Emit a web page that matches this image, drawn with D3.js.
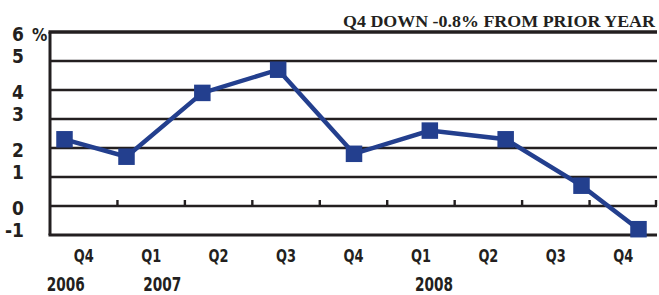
<!DOCTYPE html>
<html>
<head>
<meta charset="utf-8">
<script src="https://cdn.jsdelivr.net/npm/d3@7"></script>
<style>
  html, body { margin: 0; padding: 0; background: #ffffff; }
  svg { display: block; }
</style>
</head>
<body>
<svg id="chart" width="659" height="295"></svg>
<script>
// ---- data ----
const quarters = ["Q4", "Q1", "Q2", "Q3", "Q4", "Q1", "Q2", "Q3", "Q4"];
const values = [2.3, 1.7, 3.9, 4.7, 1.8, 2.6, 2.3, 0.7, -0.8];
const yearLabels = ["2006", "2007", "2008"];
const yearAnchorIndex = [0, 1, 5];
const yTicks = [6, 5, 4, 3, 2, 1, 0, -1];
const titleText = "Q4 DOWN -0.8% FROM PRIOR YEAR";

// ---- layout ----
const mLeft = 50, mRight = 657, mTop = 32, mBottom = 235;
const ink = "#231f20";
const blue = "#233f8e";
const sansNarrow = "'Liberation Sans Narrow', 'DejaVu Sans Condensed', 'Roboto Condensed', sans-serif";
const yearShift = [-18, 11, 13];

const svg = d3.select("#chart");

const y = d3.scaleLinear().domain([-1, 6]).range([mBottom, mTop]);
const xBand = d3.scaleBand().domain(d3.range(quarters.length)).range([mLeft, mRight]);
// marker positions follow the original's own (slightly irregular) spacing
const xPt = d3.scaleLinear().domain([0, 1, 7, 8]).range([64.5, 126.5, 581.5, 638.5]);

// gridlines
const gridVals = [5, 4, 3, 2, 1, 0];
svg.append("g").selectAll("line").data(gridVals).join("line")
  .attr("x1", mLeft).attr("x2", mRight)
  .attr("y1", d => y(d)).attr("y2", d => y(d))
  .attr("stroke", ink).attr("stroke-width", 2.6);

// frame: top, bottom, left
svg.append("line").attr("x1", mLeft - 1.5).attr("x2", mRight).attr("y1", y(6)).attr("y2", y(6))
  .attr("stroke", ink).attr("stroke-width", 3.6);
svg.append("line").attr("x1", mLeft - 1.5).attr("x2", mRight).attr("y1", y(-1)).attr("y2", y(-1))
  .attr("stroke", ink).attr("stroke-width", 3);
svg.append("line").attr("x1", mLeft).attr("x2", mLeft).attr("y1", y(6)).attr("y2", y(-1))
  .attr("stroke", ink).attr("stroke-width", 3);

// tick marks on zero line at band boundaries
const boundaries = d3.range(1, quarters.length + 1).map(i => i === quarters.length ? mRight - 1 : xBand(i));
svg.append("g").selectAll("line").data(boundaries).join("line")
  .attr("x1", d => d).attr("x2", d => d)
  .attr("y1", y(0)).attr("y2", y(0) - 6)
  .attr("stroke", ink).attr("stroke-width", 2.4);

// y tick labels
svg.append("g").selectAll("text").data(yTicks).join("text")
  .attr("x", 24)
  .attr("y", d => y(d) + (Math.abs(d) % 2 === 1 ? -5 : 2))
  .attr("dy", "0.36em")
  .attr("text-anchor", "end")
  .attr("font-family", sansNarrow)
  .attr("font-weight", "bold")
  .attr("font-size", 19)
  .attr("fill", ink)
  .text(d => d);
svg.append("text")
  .attr("x", 32).attr("y", y(6) + 3).attr("dy", "0.36em")
  .attr("font-family", sansNarrow).attr("font-weight", "bold").attr("font-size", 17)
  .attr("fill", ink).text("%");

// category labels
svg.append("g").selectAll("text").data(quarters).join("text")
  .attr("x", (d, i) => xBand(i) + xBand.bandwidth() / 2)
  .attr("y", 262)
  .attr("text-anchor", "middle")
  .attr("font-family", sansNarrow)
  .attr("font-weight", "bold")
  .attr("font-size", 18)
  .attr("textLength", 20)
  .attr("lengthAdjust", "spacingAndGlyphs")
  .attr("fill", ink)
  .text(d => d);

// year labels
svg.append("g").selectAll("text").data(yearLabels).join("text")
  .attr("x", (d, i) => xBand(yearAnchorIndex[i]) + xBand.bandwidth() / 2 + yearShift[i])
  .attr("y", 291)
  .attr("text-anchor", "middle")
  .attr("font-family", sansNarrow)
  .attr("font-weight", "bold")
  .attr("font-size", 19)
  .attr("textLength", 38)
  .attr("lengthAdjust", "spacingAndGlyphs")
  .attr("fill", ink)
  .text(d => d);

// title
svg.append("text")
  .attr("x", 655).attr("y", 27)
  .attr("text-anchor", "end")
  .attr("font-family", "'Liberation Serif', 'DejaVu Serif', serif")
  .attr("font-weight", "bold")
  .attr("font-size", 17)
  .attr("textLength", 312)
  .attr("lengthAdjust", "spacingAndGlyphs")
  .attr("fill", ink)
  .text(titleText);

// line
const line = d3.line().x((d, i) => xPt(i)).y(d => y(d));
svg.append("path").datum(values)
  .attr("d", line)
  .attr("fill", "none")
  .attr("stroke", blue)
  .attr("stroke-width", 4.5)
  .attr("stroke-linejoin", "miter");

// markers
const ms = 16.5;
svg.append("g").selectAll("rect").data(values).join("rect")
  .attr("x", (d, i) => xPt(i) - ms / 2)
  .attr("y", d => y(d) - ms / 2)
  .attr("width", ms).attr("height", ms)
  .attr("fill", blue);
</script>
</body>
</html>
